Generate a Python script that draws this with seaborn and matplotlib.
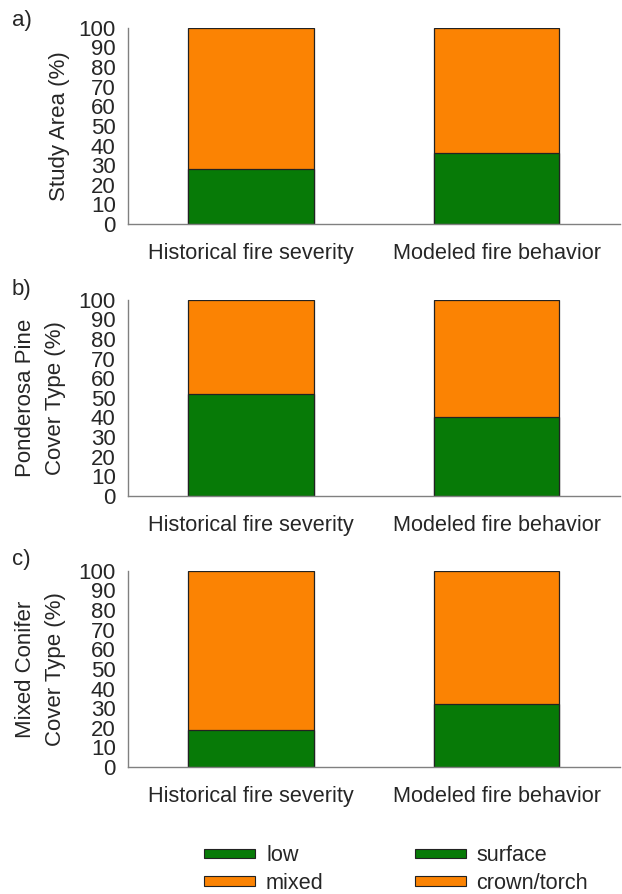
import matplotlib
matplotlib.use("Agg")
import matplotlib.pyplot as plt
from matplotlib.patches import Patch
import pandas as pd
import seaborn as sns

# values (percent of area)
categories = ["Historical fire severity", "Modeled fire behavior"]
panel_letters = ["a)", "b)", "c)"]
panel_ylabels = ["Study Area (%)", "Ponderosa Pine\nCover Type (%)", "Mixed Conifer\nCover Type (%)"]
low_surface = [[28, 36], [52, 40], [19, 32]]
mixed_crown = [[72, 64], [48, 60], [81, 68]]
yticks = list(range(0, 101, 10))
legend_labels = ["low", "mixed", "surface", "crown/torch"]

GREEN = "#077a07"
ORANGE = "#fb8303"

sns.set_theme(style="white")
plt.rcParams["font.family"] = ["Liberation Sans", "DejaVu Sans"]

fig = plt.figure(figsize=(6.22, 8.94), dpi=100)
left, width, height = 0.206, 0.79, 0.2195
bottoms = [0.7494, 0.4452, 0.142]
letter_y = [0.989, 0.688, 0.386]
label_pads = [6, 9, 9]

for i in range(3):
    ax = fig.add_axes([left, bottoms[i], width, height])
    df = pd.DataFrame({
        "category": categories,
        "low": low_surface[i],
        "total": [a + b for a, b in zip(low_surface[i], mixed_crown[i])],
    })
    # stacked bars: total (orange) underneath, lower class (green) on top
    sns.barplot(data=df, x="category", y="total", color=ORANGE, saturation=1,
                width=0.51, edgecolor="#222222", linewidth=0.9, ax=ax)
    sns.barplot(data=df, x="category", y="low", color=GREEN, saturation=1,
                width=0.51, edgecolor="#222222", linewidth=0.9, ax=ax)
    ax.set_xlim(-0.5, 1.5)
    ax.set_ylim(0, 100)
    ax.set_yticks(yticks)
    ax.set_xlabel("")
    ax.set_ylabel(panel_ylabels[i], fontsize=16, labelpad=label_pads[i], linespacing=1.55)
    ax.tick_params(axis="y", length=0, pad=9, labelsize=16)
    ax.tick_params(axis="x", length=3, width=0.8, color="#808080", pad=11, labelsize=15.6)
    sns.despine(ax=ax)
    for s in ["left", "bottom"]:
        ax.spines[s].set_color("#808080")
        ax.spines[s].set_linewidth(1)
    fig.text(0.019, letter_y[i], panel_letters[i], fontsize=16,
             ha="left", va="top")

handles = [Patch(facecolor=GREEN, edgecolor="#222222", linewidth=0.8),
           Patch(facecolor=ORANGE, edgecolor="#222222", linewidth=0.8),
           Patch(facecolor=GREEN, edgecolor="#222222", linewidth=0.8),
           Patch(facecolor=ORANGE, edgecolor="#222222", linewidth=0.8)]
fig.legend(handles, legend_labels, ncol=2, loc="center", bbox_to_anchor=(0.637, 0.0275),
           frameon=False, fontsize=15.6, handlelength=2.35, handleheight=0.3,
           handletextpad=0.5, columnspacing=4.2, labelspacing=0.3)

fig.savefig("out.png", dpi=100)
